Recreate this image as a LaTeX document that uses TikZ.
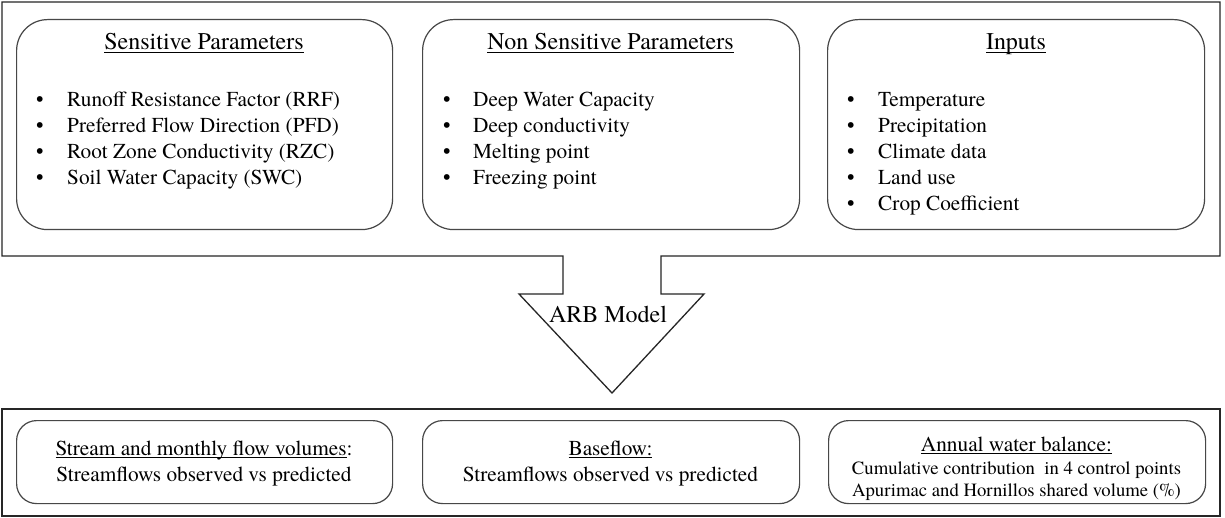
\documentclass[tikz,border=0pt]{standalone}
\usepackage{fontspec}
\setmainfont{texgyretermes}[Extension=.otf, UprightFont=*-regular, BoldFont=*-bold,
  ItalicFont=*-italic, BoldItalicFont=*-bolditalic]
% underline drawn just below the baseline, crossing descenders
\newcommand\undl[1]{\setbox0\hbox{#1}\rlap{\rule[-2.8pt]{\wd0}{1.1pt}}\box0}
\begin{document}
\begin{tikzpicture}[x=1pt,y=-1pt,
  frame/.style={draw=black!85, line width=1.3pt},
  panel/.style={draw=black!72, line width=1.2pt, rounded corners=31pt,
    anchor=north west, inner sep=0pt, minimum height=210pt},
  result/.style={draw=black!72, line width=1.2pt, rounded corners=20pt,
    anchor=north west, inner sep=0pt, minimum height=83pt},
  head/.style={anchor=base, inner sep=0pt, font=\fontsize{24}{28}\selectfont},
  entry/.style={anchor=base west, inner sep=0pt, font=\fontsize{21.3}{26}\selectfont},
  line/.style={anchor=base, inner sep=0pt, font=\fontsize{21.3}{26}\selectfont},
  small/.style={anchor=base, inner sep=0pt, font=\fontsize{18.7}{22}\selectfont}]

\useasboundingbox (0,0) rectangle (1225,518);
\fill[white] (0,0) rectangle (1225,518);

% upper frame, its lower edge turning into the block arrow
\draw[frame, line join=miter]
  (2,2) -- (1220,2) -- (1220,256) -- (661,256) -- (661,294) -- (704,294)
  -- (612,393) -- (519,294) -- (563,294) -- (563,256) -- (2,256) -- cycle;
\node[anchor=base, inner sep=0pt, font=\fontsize{24}{28}\selectfont] (arb) at (608,323) {ARB Model};

% parameter and input panels
\node[panel, minimum width=376pt] (sens) at (16,19) {};
\node[panel, minimum width=377pt] (nons) at (422,19) {};
\node[panel, minimum width=377pt] (inp)  at (827,19) {};

\node[head] (sensT) at (204,50) {\undl{Sensitive Parameters}};
\node[head] (nonsT) at (610.5,50) {\undl{Non Sensitive Parameters}};
\node[head] (inpT)  at (1016,50) {\undl{Inputs}};

\foreach \t [count=\i] in {Runoff Resistance Factor (RRF), Preferred Flow Direction (PFD),
    Root Zone Conductivity (RZC), Soil Water Capacity (SWC)}
  \node[entry] (s\i) at (36,{107+26*(\i-1)}) {\makebox[31pt][l]{\textbullet}\t};

\foreach \t [count=\i] in {Deep Water Capacity, Deep conductivity, Melting point, Freezing point}
  \node[entry] (n\i) at (443,{107+26*(\i-1)}) {\makebox[30pt][l]{\textbullet}\t};

\foreach \t [count=\i] in {Temperature, Precipitation, Climate data, Land use, Crop Coefficient}
  \node[entry] (p\i) at (847,{107+26*(\i-1)}) {\makebox[31pt][l]{\textbullet}\t};

% lower frame with the model results
\draw[frame] (2,409) rectangle (1220,516);

\node[result, minimum width=376pt] (r1) at (16,420) {};
\node[result, minimum width=377pt] (r2) at (422,420) {};
\node[result, minimum width=377pt] (r3) at (828,420) {};

\node[line] (r1a) at (204,455) {\undl{Stream and monthly flow volumes}:};
\node[line] (r1b) at (204,481) {Streamflows observed vs predicted};

\node[line] (r2a) at (610.5,455) {\undl{Baseflow:}};
\node[line] (r2b) at (610.5,481) {Streamflows observed vs predicted};

\node[line] (r3a) at (1016.5,451) {\undl{Annual water balance:}};
\node[small] (r3b) at (1016.5,474) {Cumulative contribution \ in 4 control points};
\node[small] (r3c) at (1016.5,496) {Apurimac and Hornillos shared volume (\%)};
\end{tikzpicture}
\end{document}
